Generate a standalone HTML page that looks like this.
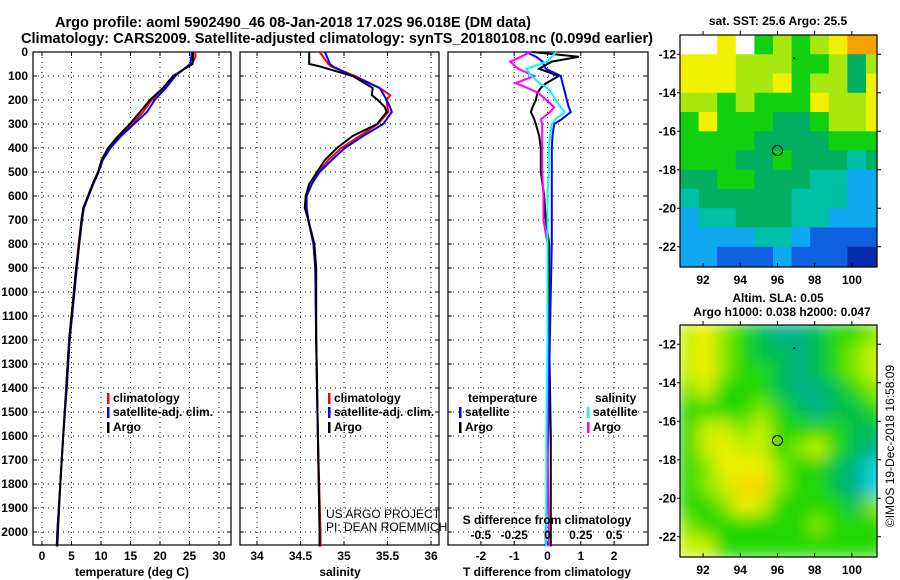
<!DOCTYPE html>
<html><head><meta charset="utf-8"><style>
html,body{margin:0;padding:0;background:#fff;}
svg{display:block;font-family:"Liberation Sans",Arial,sans-serif;}
.t{font-weight:bold;font-size:12px;}
.n{font-weight:normal;font-size:12px;}
</style></head><body>
<svg id="c" width="900" height="580" viewBox="0 0 900 580" xmlns="http://www.w3.org/2000/svg">
<text x="293" y="27" text-anchor="middle" font-weight="bold" font-size="14.5" textLength="476" lengthAdjust="spacingAndGlyphs">Argo profile: aoml 5902490_46 08-Jan-2018 17.02S 96.018E (DM data)</text>
<text x="337" y="43" text-anchor="middle" font-weight="bold" font-size="14.5" textLength="632" lengthAdjust="spacingAndGlyphs">Climatology: CARS2009. Satellite-adjusted climatology: synTS_20180108.nc (0.099d earlier)</text>
<g id="g"></g>
</svg>
<script>
// ---- profile data (depth in m) ----
const depthT = [0,20,50,100,150,200,250,300,350,400,450,500,550,600,650,700,800,900,1000,1200,1400,1600,1800,2000,2060];
const tempArgo = [25.6,25.6,25.5,22.2,20.5,18.3,16.6,14.9,12.9,11.2,10.1,9.5,8.6,7.8,7.0,6.7,6.3,5.8,5.4,4.6,4.1,3.6,3.1,2.7,2.6];
const tempClim = [26.0,26.0,25.4,22.3,20.6,18.6,17.1,15.3,13.2,11.4,10.2,9.5,8.6,7.8,7.0,6.7,6.2,5.8,5.4,4.6,4.1,3.6,3.1,2.6,2.5];
const tempSat  = [25.4,25.3,25.1,22.6,21.0,19.1,17.8,15.6,13.4,11.6,10.3,9.6,8.7,7.9,7.1,6.8,6.3,5.9,5.5,4.7,4.2,3.6,3.1,2.6,2.5];
const depthS = [0,50,60,100,150,180,200,230,250,300,350,400,450,500,550,600,650,700,800,900,1200,1600,2000,2060];
const salArgo = [34.60,34.60,34.72,35.10,35.33,35.32,35.39,35.47,35.49,35.38,35.10,34.92,34.78,34.69,34.60,34.56,34.55,34.59,34.66,34.68,34.68,34.70,34.72,34.72];
const salClim = [34.72,34.82,34.85,35.13,35.41,35.53,35.49,35.50,35.51,35.39,35.18,34.97,34.82,34.71,34.63,34.57,34.57,34.59,34.65,34.67,34.68,34.70,34.73,34.73];
const salSat  = [34.78,34.84,34.87,35.10,35.41,35.46,35.49,35.53,35.55,35.45,35.22,35.01,34.86,34.72,34.63,34.57,34.57,34.59,34.65,34.67,34.68,34.70,34.72,34.72];
const depthD = [0,20,40,70,100,130,150,170,200,230,250,280,300,350,400,500,600,700,800,1000,1200,1600,2000,2060];
const dTArgo = [-0.46,0.94,0.13,-0.25,0.34,-0.04,-0.2,-0.3,-0.35,-0.45,-0.5,-0.4,-0.35,-0.25,-0.2,-0.2,-0.1,-0.05,0.05,0.05,0.05,0.1,0.1,0.1];
const dTSat  = [-0.64,-0.34,-0.15,-0.05,0.4,0.45,0.49,0.53,0.58,0.64,0.7,0.43,0.2,0.15,0.13,0.13,0.13,0.13,0.13,0.1,0.07,0.02,-0.05,-0.05];
const dSSat  = [0.066,0.03,0.0,-0.16,-0.12,-0.06,0.0,0.03,0.06,0.1,0.13,0.06,0.03,0.02,0.01,0.01,0.0,0.0,0.0,0.0,0.0,-0.01,-0.01,-0.01];
const dSArgo = [-0.13,-0.2,-0.28,-0.22,-0.1,-0.24,-0.15,-0.07,-0.01,0.05,0.02,-0.05,-0.04,-0.04,-0.04,-0.04,-0.03,-0.03,0.0,0.0,0.0,0.0,0.01,0.01];
const depthTicks = [0,100,200,300,400,500,600,700,800,900,1000,1100,1200,1300,1400,1500,1600,1700,1800,1900,2000];
const tempTicks = [0,5,10,15,20,25,30];
const salTicks = [34,34.5,35,35.5,36];
const salTickLabels = ["34","34.5","35","35.5","36"];
const dTTicks = [-2,-1,0,1,2];
const dSTicks = [-0.5,-0.25,0,0.25,0.5];
const dSTickLabels = ["-0.5","-0.25","0","0.25","0.5"];
// ---- map data ----
const lonTicks = [92,94,96,98,100];
const latTicks = [-12,-14,-16,-18,-20,-22];
const sstLevels = [ // rows from -11 to -23, cols 91..102 (9 = no data)
[9,9,7,9,5,6,5,6,7,8,8],
[7,7,7,6,6,6,5,5,6,4,6],
[7,7,7,6,6,7,5,6,6,4,7],
[6,6,5,6,5,5,5,7,6,6,7],
[5,7,5,5,5,4,4,5,6,6,7],
[5,5,5,5,4,4,4,4,5,5,5],
[5,5,5,4,4,5,4,4,4,3,4],
[4,4,5,5,4,4,4,3,3,2,2],
[3,4,4,4,4,4,3,3,3,2,2],
[2,3,3,4,4,4,3,3,2,2,2],
[2,2,2,2,3,3,2,1,1,1,1],
[2,2,1,1,1,2,1,1,1,0,0]];
const slaLevels = [
[5,6,4,3,2,1,1,2,3,3,4],
[5,6,4,3,2,2,1,2,3,4,5],
[5,6,4,3,3,2,1,2,3,4,5],
[4,5,3,3,3,2,1,1,2,3,4],
[3,3,3,3,4,3,2,1,2,2,3],
[3,5,5,4,5,3,3,3,3,2,2],
[3,5,6,5,5,3,4,5,3,2,1],
[3,4,6,6,6,4,3,3,2,1,0],
[3,4,5,7,7,4,3,3,2,1,0],
[3,3,4,6,5,3,3,3,3,2,4],
[4,3,3,3,3,3,3,4,3,3,3],
[5,5,3,3,3,3,3,3,3,3,3]];
const sstColors = ["#0a2ca8","#1060e0","#10a8f0","#00c0a8","#00b060","#10d010","#a8e810","#f0f000","#f8a000","#ffffff"];
const slaColors = ["#10d0e0","#00b088","#00c050","#20d800","#80e800","#c8f000","#f0f000","#f8d800"];
const argoLon = 96.0, argoLat = -17.0;

const NS="http://www.w3.org/2000/svg";
const G=document.getElementById('g');
function mk(tag,attrs,parent){const e=document.createElementNS(NS,tag);for(const k in attrs)e.setAttribute(k,attrs[k]);(parent||G).appendChild(e);return e;}
function txt(x,y,s,anchor,cls,parent){const e=mk('text',{x:x,y:y,'text-anchor':anchor||'middle','class':cls||'t'},parent);e.textContent=s;return e;}

const PT=52, PB=545;
const yD=d=>PT+d*0.24;
const xT=v=>42+v*5.9;
const xS=v=>257+(v-34)*87;
const xDT=v=>547.5+v*33.3;
const xDS=v=>547.5+v*133.2;

function panel(name){
  const g=mk('g',{});
  
  
  return g;
}
function grid(g,L,R,xs){
  depthTicks.forEach(d=>{ if(d>0){const l=mk('line',{x1:L,x2:R,y1:yD(d),y2:yD(d),stroke:'#000','stroke-width':1,'stroke-dasharray':'1,4'},g);
    
    }
    mk('line',{x1:L,x2:L+4,y1:yD(d),y2:yD(d),stroke:'#000'},g);
    mk('line',{x1:R-4,x2:R,y1:yD(d),y2:yD(d),stroke:'#000'},g);});
  xs.forEach(x=>{const l=mk('line',{x1:x,x2:x,y1:PT,y2:PB,stroke:'#000','stroke-dasharray':'1,4'},g);
    
    
    mk('line',{x1:x,x2:x,y1:PB-4,y2:PB,stroke:'#000'},g);mk('line',{x1:x,x2:x,y1:PT,y2:PT+4,stroke:'#000'},g);});
  const r=mk('rect',{x:L,y:PT,width:R-L,height:PB-PT,fill:'none',stroke:'#000','stroke-width':1.2},g);
  
  
}
function line(g,xs,ys,fx,color,name,w){
  const pts=xs.map((v,i)=>fx(v).toFixed(1)+','+yD(ys[i]).toFixed(1)).join(' ');
  const p=mk('polyline',{points:pts,fill:'none',stroke:color,'stroke-width':w||2},g);
  
  
}
function legend(g,x,y,color,label){
  mk('rect',{x:x,y:y-9,width:2.5,height:11,fill:color},g);
  const t=txt(x+6,y,label,'start','t',g);
  
  
}

const ya=mk('g',{});


depthTicks.forEach(d=>txt(28,yD(d)+4,String(d),'end','t',ya));

const p1=panel('temperature-panel');
grid(p1,33,231,tempTicks.map(xT));
tempTicks.forEach(v=>txt(xT(v),560,String(v),'middle','t',p1));
txt(132,576,'temperature (deg C)','middle','t',p1);
line(p1,tempClim,depthT,xT,'#f00','temperature-climatology-line');
line(p1,tempSat,depthT,xT,'#00f','temperature-satellite-line');
line(p1,tempArgo,depthT,xT,'#000','temperature-argo-line');
legend(p1,107,402,'#f00','climatology');
legend(p1,107,416,'#00f','satellite-adj. clim.');
legend(p1,107,431,'#000','Argo');

const p2=panel('salinity-panel');
grid(p2,240,439,salTicks.map(xS));
salTicks.forEach((v,i)=>txt(xS(v),560,salTickLabels[i],'middle','t',p2));
txt(340,576,'salinity','middle','t',p2);
line(p2,salClim,depthS,xS,'#f00','salinity-climatology-line');
line(p2,salSat,depthS,xS,'#00f','salinity-satellite-line');
line(p2,salArgo,depthS,xS,'#000','salinity-argo-line');
legend(p2,328,402,'#f00','climatology');
legend(p2,328,416,'#00f','satellite-adj. clim.');
legend(p2,328,431,'#000','Argo');
const pi1=txt(326,518,'US ARGO PROJECT','start','n',p2);

const pi2=txt(326,531,'PI: DEAN ROEMMICH','start','n',p2);


const p3=panel('difference-panel');
grid(p3,448,648,dTTicks.map(xDT));
dTTicks.forEach(v=>txt(xDT(v),560,String(v),'middle','t',p3));
txt(547,576,'T difference from climatology','middle','t',p3);
line(p3,dTArgo,depthD,xDT,'#000','t-diff-argo-line');
line(p3,dTSat,depthD,xDT,'#00f','t-diff-satellite-line');
line(p3,dSArgo,depthD,xDS,'#f0f','s-diff-argo-line');
line(p3,dSSat,depthD,xDS,'#0ff','s-diff-satellite-line');
txt(468,402,'temperature','start','t',p3);
txt(595,402,'salinity','start','t',p3);
legend(p3,459,416,'#00f','satellite');
legend(p3,459,431,'#000','Argo');
legend(p3,587,416,'#0ff','satellite');
legend(p3,587,431,'#f0f','Argo');
txt(547,524,'S difference from climatology','middle','t',p3);
dSTicks.forEach((v,i)=>txt(xDS(v),539,dSTickLabels[i],'middle','t',p3));

function map(name,top,levels,colors,blur){
  const L=680,R=877,B=top+232;
  const xL=lon=>L+(lon-90.76)*18.6;
  const yL=lat=>top+(-11.0-lat)*19.25;
  const g=mk('g',{});
  
  
  const cid='clip'+top;
  const cp=mk('clipPath',{id:cid},g);mk('rect',{x:L,y:top,width:R-L,height:B-top},cp);
  const cells=mk('g',{'clip-path':'url(#'+cid+')'},g);
  const inner=mk('g',blur?{filter:'url(#bl)'}:{},cells);
  levels.forEach((row,r)=>row.forEach((lv,c)=>{
    const x0=xL(90.76+c), y0=yL(-11-r);
    const cell=mk('rect',{x:x0-(blur?2:0),y:y0-(blur?2:0),width:18.6+(blur?4:0.6),height:19.25+(blur?4:0.6),fill:colors[lv]},inner);
    
    
  }));
  mk('rect',{x:L,y:top,width:R-L,height:B-top,fill:'none',stroke:'#000','stroke-width':1.2},g);
  lonTicks.forEach(v=>{mk('line',{x1:xL(v),x2:xL(v),y1:B,y2:B-4,stroke:'#000'},g);mk('line',{x1:xL(v),x2:xL(v),y1:top,y2:top-4,stroke:'#000'},g);
    txt(xL(v),B+17,String(v),'middle','t',g);});
  latTicks.forEach(v=>{mk('line',{x1:R,x2:R+4,y1:yL(v),y2:yL(v),stroke:'#000'},g);mk('line',{x1:L,x2:L-3,y1:yL(v),y2:yL(v),stroke:'#000'},g);
    txt(676,yL(v)+4,String(v),'end','t',g);});
  const c=mk('circle',{cx:xL(argoLon),cy:yL(argoLat),r:5,fill:'none',stroke:'#000','stroke-width':1},g);
  
  
  mk('rect',{x:xL(96.85),y:yL(-12.15),width:2,height:2,fill:'#000'},g);
}
const defs=mk('defs',{});const f=mk('filter',{id:'bl',filterUnits:'userSpaceOnUse',x:600,y:280,width:300,height:300},defs);mk('feGaussianBlur',{stdDeviation:8},f);
map('sst-map',35,sstLevels,sstColors,false);
map('sla-map',325,slaLevels,slaColors,true);
txt(778,25,'sat. SST: 25.6 Argo: 25.5','middle','t');
txt(778,302,'Altim. SLA: 0.05','middle','t');
txt(782,316,'Argo h1000: 0.038 h2000: 0.047','middle','t');
const wm=txt(0,0,'©IMOS 19-Dec-2018 16:58:09','middle','n');
wm.setAttribute('transform','translate(894,446) rotate(-90)');


</script>
</body></html>
